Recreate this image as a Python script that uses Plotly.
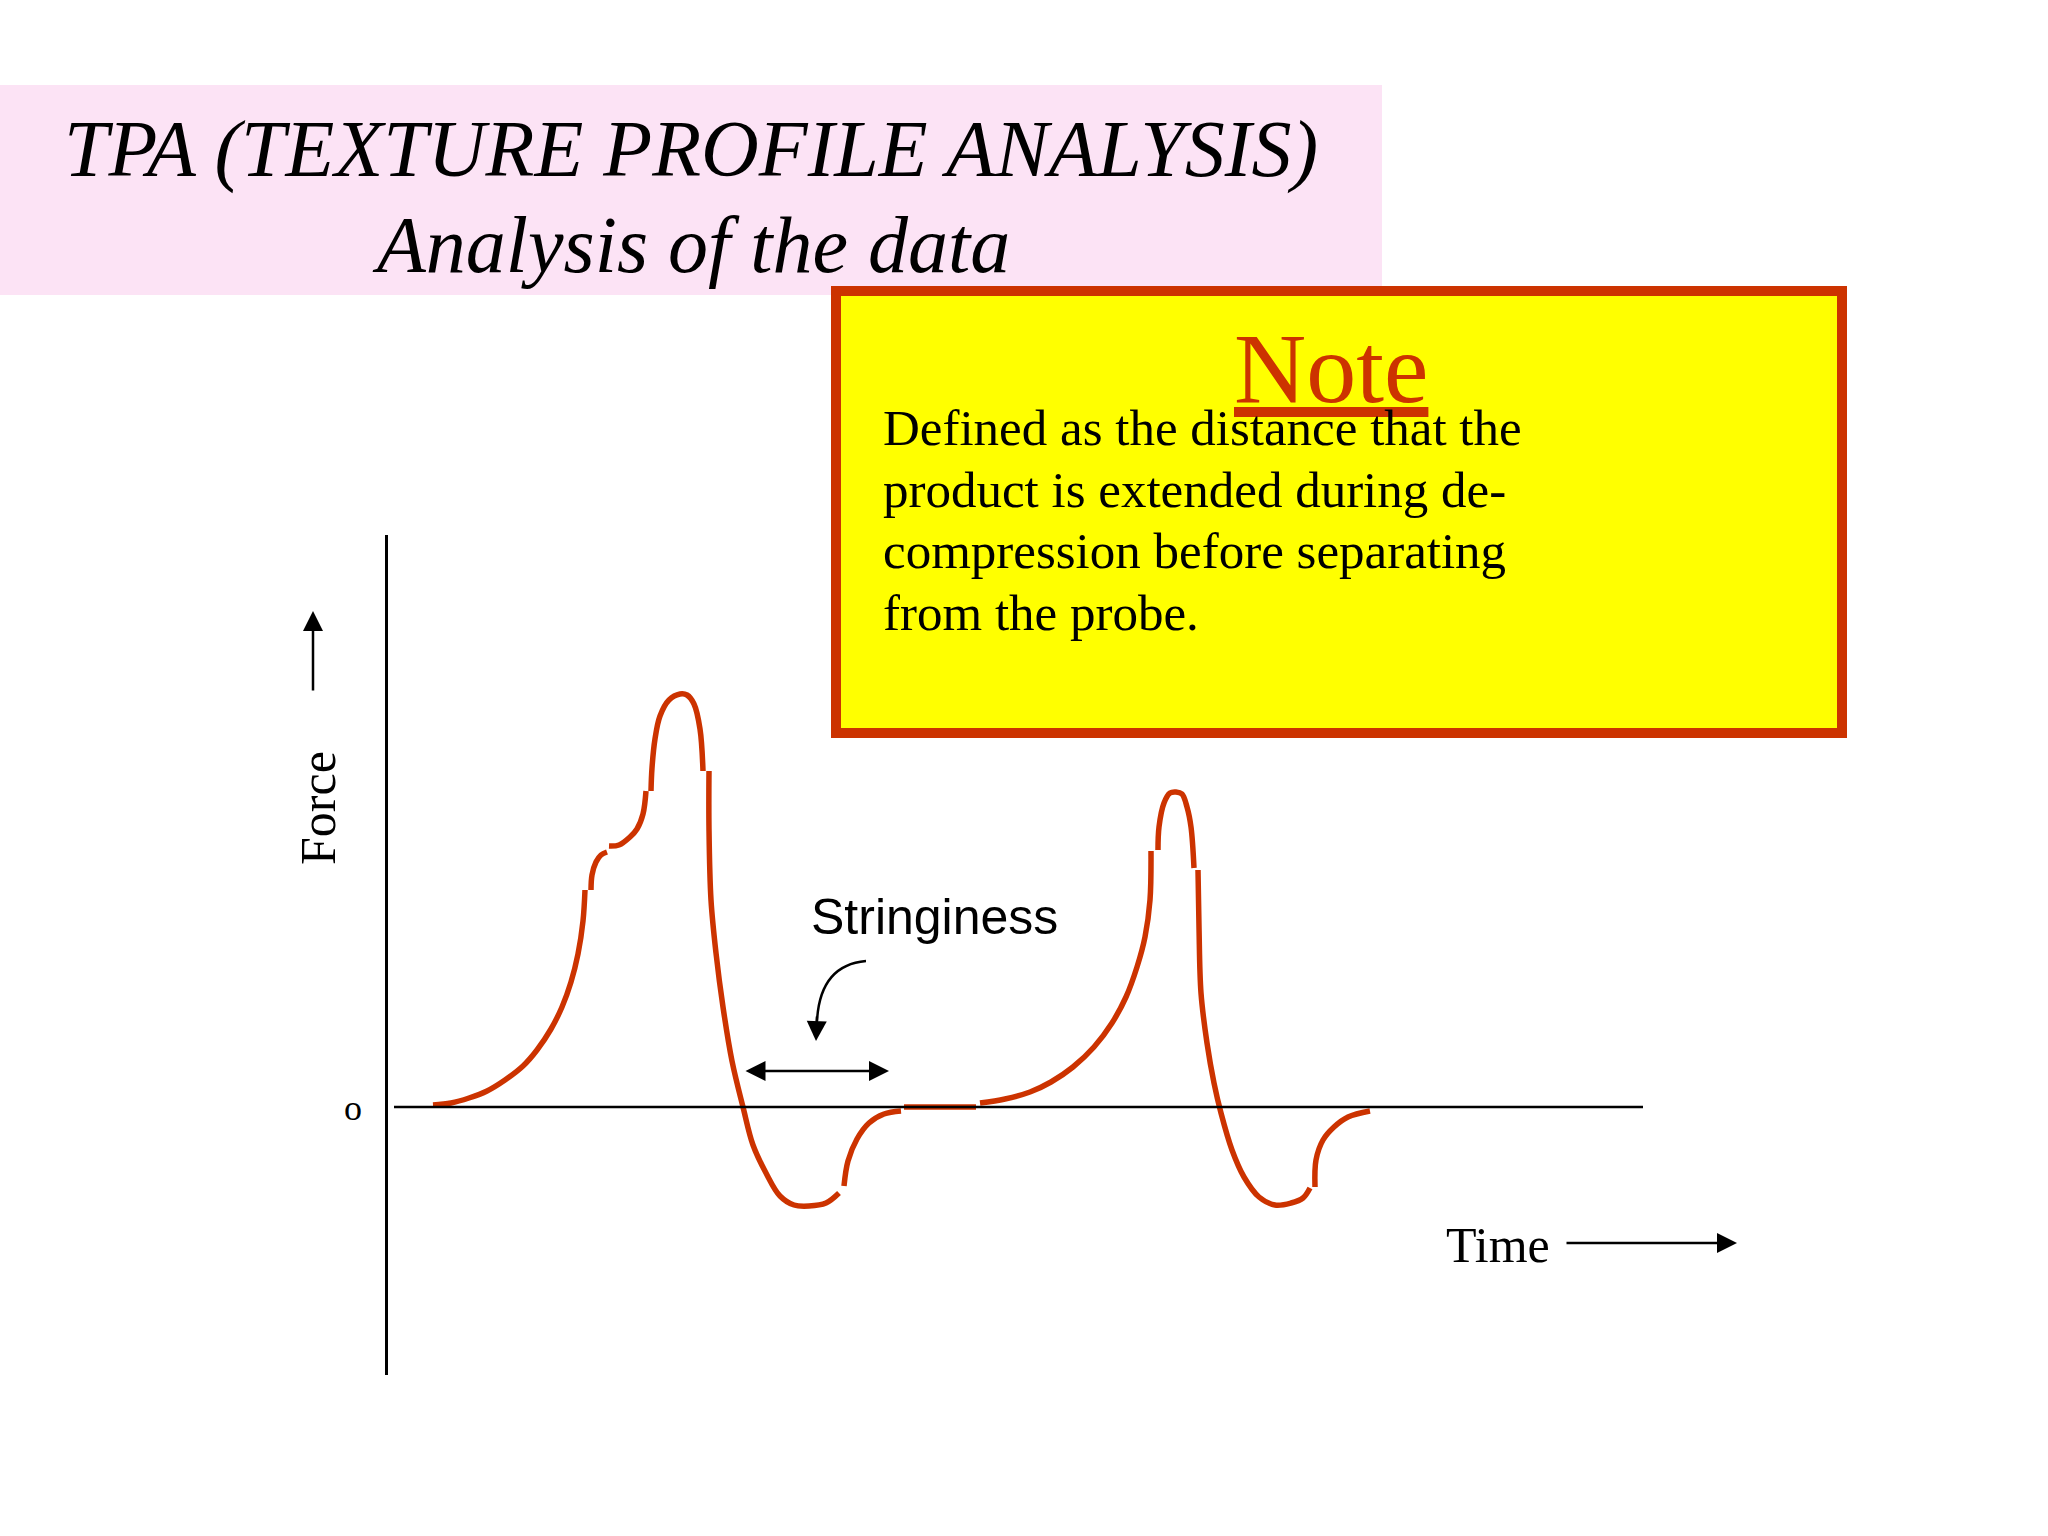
import plotly.graph_objects as go

W, H = 2048, 1536

# ---- data: TPA force-time curve (time, force in arbitrary units), segments separated by None ----
time_vals = [
    4.5, 6.3, 8.1, 9.9, 11.7, 13.5, 14.9, 16.3, 17.4, 18.3, 19.0, 19.5, 19.7, None,
    20.3, 20.4, 20.8, 21.3, 21.9, None,
    22.1, 23.1, 24.2, 24.9, 25.5, 25.8, None,
    26.3, 26.4, 26.7, 27.2, 28.1, 29.2, 29.9, 30.6, 31.2, 31.5, None,
    32.1, 32.1, 32.3, 32.8, 33.5, 34.4, 35.5, 36.5, 37.8, 39.2, 40.6, 42.1, 43.8, 45.1, None,
    45.6, 46.0, 46.9, 48.1, 49.6, 51.3, None,
    51.6, 58.8, None,
    59.2, 61.7, 64.2, 66.3, 68.5, 70.6, 72.4, 73.8, 74.9, 75.7, 76.2, 76.3, None,
    77.0, 77.1, 77.6, 78.2, 78.8, 79.4, 79.9, 80.3, 80.6, None,
    81.0, 81.1, 81.3, 81.9, 82.6, 83.3, 84.4, 85.6, 87.1, 88.7, 90.3, 91.5, 92.2, None,
    92.7, 92.8, 93.5, 94.6, 96.0, 98.2,
]
force_vals = [
    0.2, 0.4, 0.9, 1.6, 2.7, 4.1, 5.7, 7.8, 10.0, 12.5, 15.3, 18.6, 21.7, None,
    21.7, 23.2, 24.5, 25.2, 25.5, None,
    26.1, 26.2, 27.0, 27.8, 29.3, 31.6, None,
    31.6, 33.9, 36.8, 39.1, 40.7, 41.3, 41.2, 40.3, 37.8, 33.6, None,
    33.6, 27.8, 20.7, 15.4, 10.0, 4.6, 0.0, -3.8, -6.6, -8.9, -9.8, -9.9, -9.6, -8.6, None,
    -7.9, -5.4, -3.2, -1.6, -0.7, -0.4, None,
    0.0, 0.0, None,
    0.4, 0.8, 1.5, 2.5, 4.0, 6.0, 8.4, 11.0, 14.0, 17.0, 20.7, 25.6, None,
    25.7, 28.0, 30.4, 31.4, 31.5, 31.3, 30.0, 28.0, 23.9, None,
    23.7, 18.0, 11.4, 6.4, 2.4, -0.6, -4.3, -7.0, -9.0, -9.8, -9.6, -9.1, -8.1, None,
    -8.0, -5.3, -3.3, -2.0, -1.0, -0.4,
]
y_tick_vals = [0]
y_tick_text = ["o"]

title_lines = ["TPA (TEXTURE PROFILE ANALYSIS)", "Analysis of the data"]
note_title = "Note"
note_lines = [
    "Defined as the distance that the",
    "product is extended during de-",
    "compression before separating",
    "from the probe.",
]

RED = "#CC3300"
SERIF = "Liberation Serif, Times New Roman, serif"
SANS = "Liberation Sans, Arial, sans-serif"
ARW = dict(arrowhead=2, arrowsize=1.6, arrowwidth=2.5, arrowcolor="black")


def px(x):
    return x / W


def py(y):
    return 1 - y / H


fig = go.Figure()
fig.add_trace(go.Scatter(
    x=time_vals, y=force_vals, mode="lines",
    line=dict(color=RED, width=5.5, shape="spline", smoothing=1.0),
    connectgaps=False, hoverinfo="skip", showlegend=False,
))

shapes = [
    # pink title banner
    dict(type="rect", xref="paper", yref="paper", x0=0, x1=px(1382), y0=py(295), y1=py(85),
         fillcolor="#FCE3F5", line=dict(width=0), layer="below"),
    # yellow note box
    dict(type="rect", xref="paper", yref="paper", x0=px(836), x1=px(1842), y0=py(733), y1=py(291),
         fillcolor="#FFFF00", line=dict(color=RED, width=10), layer="below"),
    # time axis (force = 0)
    dict(type="line", xref="x", yref="y", x0=0.6, x1=125.5, y0=0, y1=0,
         line=dict(color="black", width=2.5)),
    # curved pointer for stringiness
    dict(type="path", xref="x", yref="y", path="M 47.8,14.6 Q 43.2,14.2 42.9,8.6",
         line=dict(color="black", width=2.5)),
]

annotations = [
    dict(text=f"<i>{title_lines[0]}</i>", xref="paper", yref="paper", x=px(691), y=py(149),
         showarrow=False, font=dict(family=SERIF, size=80, color="black"),
         xanchor="center", yanchor="middle"),
    dict(text=f"<i>{title_lines[1]}</i>", xref="paper", yref="paper", x=px(691), y=py(245),
         showarrow=False, font=dict(family=SERIF, size=80, color="black"),
         xanchor="center", yanchor="middle"),
    dict(text=f"<u>{note_title}</u>", xref="paper", yref="paper", x=px(1331), y=py(368),
         showarrow=False, font=dict(family=SERIF, size=100, color=RED),
         xanchor="center", yanchor="middle"),
]
for line, yc in zip(note_lines, [428, 490, 551, 613]):
    annotations.append(dict(text=line, xref="paper", yref="paper", x=px(881), y=py(yc),
                            showarrow=False, font=dict(family=SERIF, size=51, color="black"),
                            xanchor="left", yanchor="middle"))

annotations += [
    # Force label and arrow
    dict(text="Force", xref="paper", yref="paper", x=px(318), y=py(808), textangle=-90,
         showarrow=False, font=dict(family=SERIF, size=50, color="black"),
         xanchor="center", yanchor="middle"),
    dict(text="", xref="paper", yref="paper", x=px(313), y=py(611), ax=0, ay=81,
         showarrow=True, **ARW),
    # Time label and arrow
    dict(text="Time", xref="x", yref="y", x=111.0, y=-13.8,
         showarrow=False, font=dict(family=SERIF, size=50, color="black"),
         xanchor="center", yanchor="middle"),
    dict(text="", xref="x", yref="y", x=134.9, y=-13.6, axref="x", ayref="y", ax=117.7, ay=-13.6,
         showarrow=True, **ARW),
    # Stringiness label and arrows
    dict(text="Stringiness", xref="x", yref="y", x=54.6, y=19.0,
         showarrow=False, font=dict(family=SANS, size=50, color="black"),
         xanchor="center", yanchor="middle"),
    dict(text="", xref="x", yref="y", x=50.1, y=3.6, axref="x", ayref="y", ax=35.6, ay=3.6,
         showarrow=True, arrowside="end+start", startarrowhead=2, startarrowsize=1.6, **ARW),
    dict(text="", xref="x", yref="y", x=42.8, y=6.6, axref="x", ayref="y", ax=42.9, ay=9.2,
         showarrow=True, **ARW),
]

fig.update_layout(
    width=W, height=H, autosize=False,
    margin=dict(l=0, r=0, t=0, b=0, pad=0),
    paper_bgcolor="white", plot_bgcolor="white",
    shapes=shapes, annotations=annotations, showlegend=False,
    xaxis=dict(domain=[px(388), px(1800)], range=[0, 141.2], visible=False, fixedrange=True),
    yaxis=dict(domain=[py(1375), py(535)], range=[-26.8, 57.2],
               showline=True, linecolor="black", linewidth=2.5,
               showgrid=False, zeroline=False, ticks="",
               tickvals=y_tick_vals, ticktext=y_tick_text, ticklabelstandoff=16,
               tickfont=dict(family=SERIF, size=36, color="black"), fixedrange=True),
)

fig.write_html("out.html", config={"displayModeBar": False},
               post_script="document.body.style.margin='0';document.body.style.padding='0';")
